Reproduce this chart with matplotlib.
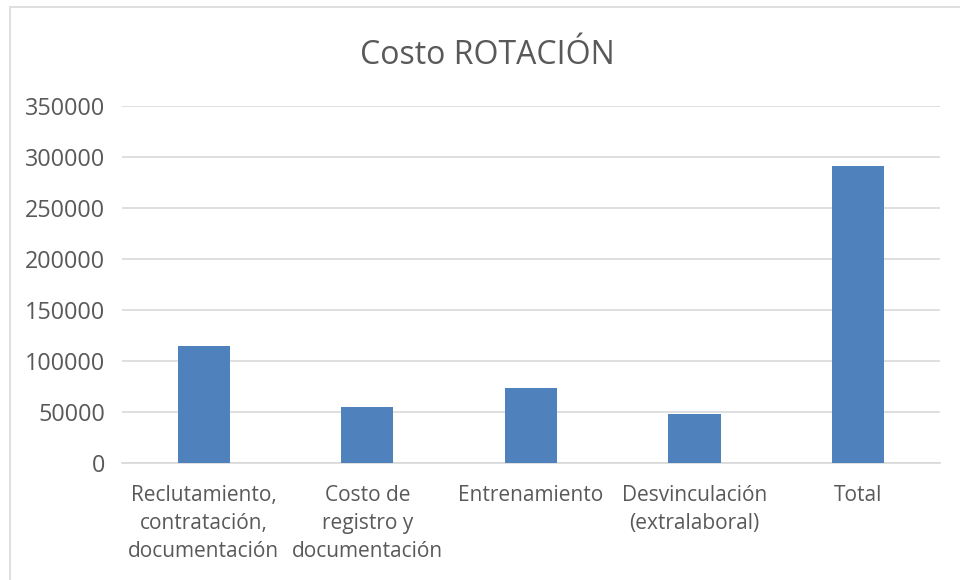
import matplotlib
matplotlib.use("Agg")
import matplotlib.pyplot as plt
from matplotlib.patches import Rectangle

# datos del grafico
categorias = ["Reclutamiento,\ncontratación,\ndocumentación",
              "Costo de\nregistro y\ndocumentación",
              "Entrenamiento",
              "Desvinculación\n(extralaboral)",
              "Total"]
costos = [114700, 54600, 73500, 48000, 290800]
yticks = [0, 50000, 100000, 150000, 200000, 250000, 300000, 350000]

plt.rcParams['font.family'] = ['Open Sans', 'DejaVu Sans']
gris = "#595959"

fig = plt.figure(figsize=(9.6, 5.8), dpi=100)
ax = fig.add_axes([0.127, 0.2017, 0.852, 0.6155])

x = range(len(categorias))
ax.bar(x, costos, width=0.32, color="#4f81bd", zorder=3)

ax.set_xlim(-0.5, len(categorias) - 0.5)
ax.set_ylim(0, 350000)
ax.set_yticks(yticks)
ax.set_yticklabels([str(v) for v in yticks])
ax.set_xticks(list(x))
ax.set_xticklabels(categorias, linespacing=1.42)
ax.tick_params(axis="both", length=0, colors=gris)
ax.tick_params(axis="x", labelsize=15, pad=16)
ax.tick_params(axis="y", labelsize=16.8, pad=12)
ax.grid(axis="y", color="#d9d9d9", linewidth=1.2, zorder=0)
for s in ["top", "right", "left"]:
    ax.spines[s].set_visible(False)
ax.spines["bottom"].set_color("#d9d9d9")
ax.spines["bottom"].set_linewidth(1.2)

fig.text(0.508, 0.905, "Costo ROTACIÓN", ha="center", va="center",
         fontsize=23, color=gris)

# marco del grafico
fig.patches.append(Rectangle((10 / 960, -0.1), 1, 1.1 - 7 / 580,
                             transform=fig.transFigure, fill=False,
                             edgecolor="#d9d9d9", linewidth=1.2))

fig.savefig("out.png", dpi=100)
